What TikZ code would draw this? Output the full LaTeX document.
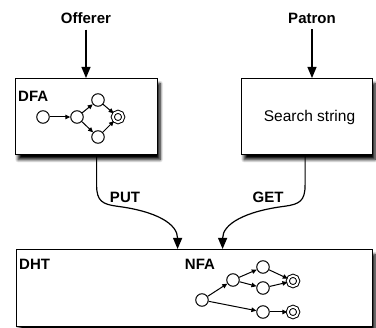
\documentclass[tikz,border=0pt]{standalone}
\usepackage{fontspec}
\setmainfont{Liberation Sans}
\usetikzlibrary{shadows.blur,arrows.meta}

\begin{document}
\begin{tikzpicture}[x=1pt,y=-1pt,
  box/.style={draw,line width=1.2pt,fill=white,
    blur shadow={shadow xshift=2.5pt,shadow yshift=-5pt,shadow blur radius=3pt,shadow blur steps=8,shadow opacity=100}},
  lbl/.style={font=\bfseries\fontsize{15}{17}\selectfont,inner sep=0pt},
  txt/.style={font=\fontsize{15.5}{18}\selectfont,inner sep=0pt},
  st/.style={circle,draw,line width=1pt,fill=white,minimum size=12.5pt,inner sep=0pt},
  fin/.style={circle,draw,line width=1pt,fill=white,double,double distance=2pt,minimum size=10.5pt,inner sep=0pt},
  bigarrow/.style={line width=1.2pt,-{Triangle[length=11pt,width=9pt]}},
  tr/.style={line width=1pt,-{Triangle[length=5pt,width=4.5pt]}}
]
\useasboundingbox (0,0) rectangle (376,328);

% boxes
\node[box,minimum width=142pt,minimum height=76pt,anchor=north west] (dfa) at (15,78) {};
\node[box,minimum width=131pt,minimum height=76pt,anchor=north west] (srch) at (241,78) {};
\node[box,minimum width=356pt,minimum height=77pt,anchor=north west] (dht) at (16,249) {};

% box labels
\node[lbl,anchor=west] (dfalbl) at (18,96) {DFA};
\node[txt] (srchlbl) at (309.5,117) {Search string};
\node[lbl,anchor=west] (dhtlbl) at (19,264) {DHT};
\node[lbl] (nfalbl) at (200,264) {NFA};

% actors
\node[lbl] (off) at (86,18) {Offerer};
\node[lbl] (pat) at (312,18) {Patron};
\coordinate (offs) at ([yshift=-6pt]off.south);
\coordinate (pats) at ([yshift=-6pt]pat.south);
\draw[bigarrow] (offs) -- (offs |- dfa.north);
\draw[bigarrow] (pats) -- (pats |- srch.north);

% PUT / GET connectors
\draw[bigarrow] ([xshift=10pt]dfa.south) -- ++(0,30)
  .. controls +(0,16) and +(-14,-2) .. ++(20,21)
  .. controls +(40,5) and +(0,-25) .. ([xshift=-17pt]dht.north);
\draw[bigarrow] ([xshift=-2pt]srch.south) -- ++(0,30)
  .. controls +(0,16) and +(14,-2) .. ++(-20,21)
  .. controls +(-40,5) and +(0,-25) .. ([xshift=28pt]dht.north);
\node[lbl] (put) at (125,197) {PUT};
\node[lbl] (get) at (268,197) {GET};

% DFA automaton
\node[st] (d0) at (43,117) {};
\node[st] (d1) at (77,117) {};
\node[st] (d2) at (98,100) {};
\node[st] (d3) at (98,137) {};
\node[fin] (d4) at (118,117) {};
\draw[tr] (d0) -- (d1);
\draw[tr] (d1) -- (d2);
\draw[tr] (d1) -- (d3);
\draw[tr] (d2) -- (d4);
\draw[tr] (d3) -- (d4);

% NFA automaton
\node[st] (n0) at (202,300) {};
\node[st] (n1) at (233,280) {};
\node[st] (n2) at (263,267) {};
\node[st] (n3) at (263,288) {};
\node[fin] (n4) at (293,281) {};
\node[st] (n5) at (263,312) {};
\node[fin] (n6) at (293,312) {};
\draw[tr] (n0) -- (n1);
\draw[tr] (n1) -- (n2);
\draw[tr] (n1) -- (n3);
\draw[tr] (n2) -- (n4);
\draw[tr] (n3) -- (n4);
\draw[tr] (n0) -- (n5);
\draw[tr] (n5) -- (n6);
\end{tikzpicture}
\end{document}
